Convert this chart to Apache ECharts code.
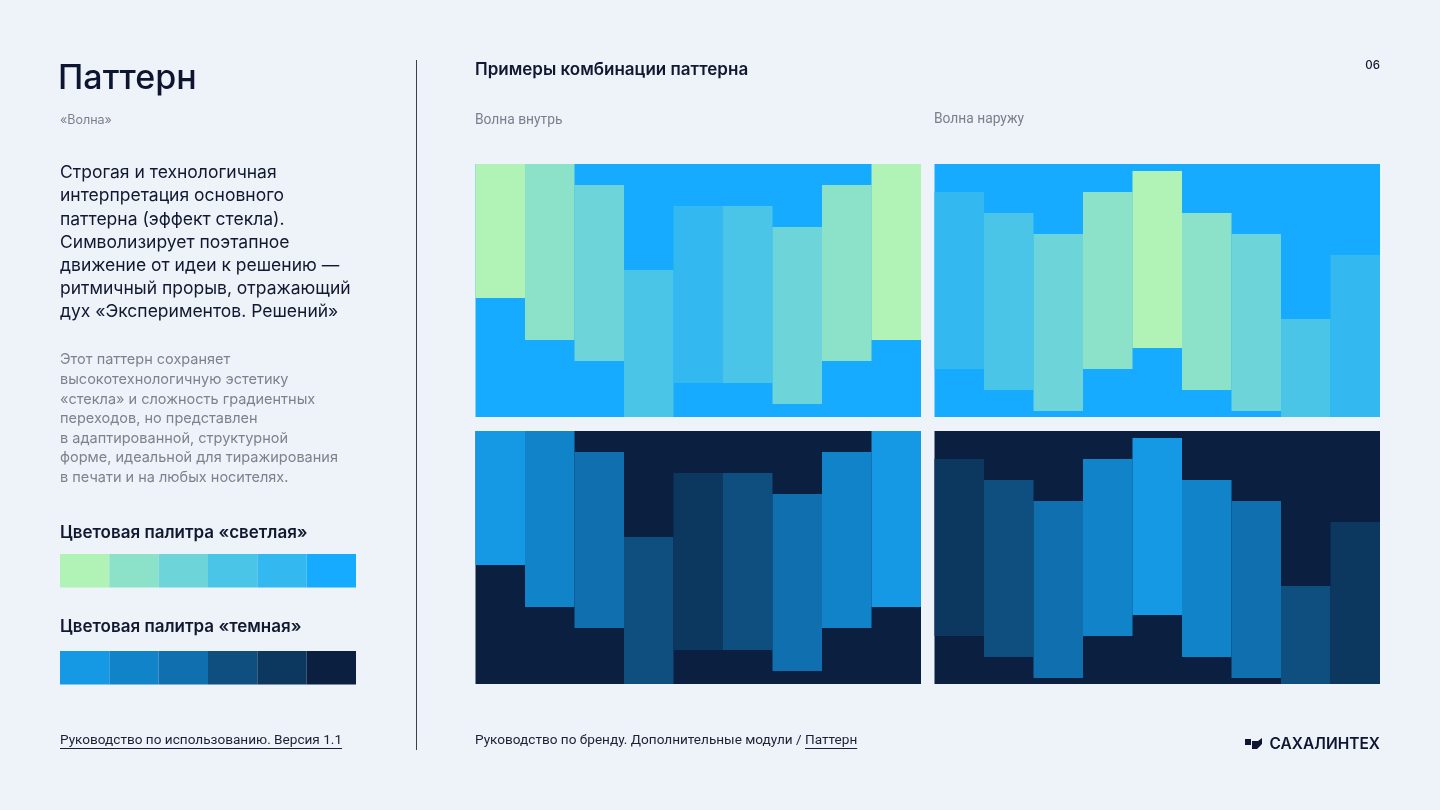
<!DOCTYPE html>
<html>
<head>
<meta charset="utf-8">
<script src="https://cdn.jsdelivr.net/npm/echarts@6/dist/echarts.min.js"></script>
<style>
  html, body { margin: 0; padding: 0; background: #EEF2F9; }
  #chart { width: 1440px; height: 810px; }
</style>
</head>
<body>
<div id="chart"></div>
<script>
// columns of the pattern
var columns = ['1', '2', '3', '4', '5', '6', '7', '8', '9'];

// "Волна внутрь": top and bottom edge of each glass strip (panel height = 253)
var waveInTop = [0, 0, 21, 106, 42, 42, 63, 21, 0];
var waveInBottom = [134, 176, 197, 253, 219, 219, 240, 197, 176];
var waveInShade = [0, 1, 2, 3, 4, 3, 2, 1, 0];

// "Волна наружу"
var waveOutTop = [28, 49, 70, 28, 7, 49, 70, 155, 91];
var waveOutBottom = [205, 226, 247, 205, 184, 226, 247, 253, 253];
var waveOutShade = [4, 3, 2, 1, 0, 1, 2, 3, 4];

// palettes
var lightPalette = ['#B1F2B6', '#8CE1C9', '#6DD5D9', '#4AC5E7', '#33B9EF', '#16ABFF'];
var darkPalette = ['#1599E4', '#1183C9', '#106FAE', '#0E4F80', '#0C375F', '#0B1F40'];
var swatchSlots = ['1', '2', '3', '4', '5', '6'];
var swatchValues = [1, 1, 1, 1, 1, 1];

var FONT = 'Inter, "Noto Sans", sans-serif';
var COND = 'Roboto, "Noto Sans", sans-serif';

var dom = document.getElementById('chart');
var myChart = echarts.init(dom, null, { renderer: 'canvas' });

// panels: grid position + which wave + which palette
var panels = [
  { left: 475.5, top: 164, top2: waveInTop, bottom2: waveInBottom, shade: waveInShade, pal: lightPalette },
  { left: 934.5, top: 164, top2: waveOutTop, bottom2: waveOutBottom, shade: waveOutShade, pal: lightPalette },
  { left: 475.5, top: 431, top2: waveInTop, bottom2: waveInBottom, shade: waveInShade, pal: darkPalette },
  { left: 934.5, top: 431, top2: waveOutTop, bottom2: waveOutBottom, shade: waveOutShade, pal: darkPalette }
];

var grid = [], xAxis = [], yAxis = [], series = [];

panels.forEach(function (p, i) {
  grid.push({
    left: p.left, top: p.top, width: 445.5, height: 253,
    show: true, backgroundColor: p.pal[5], borderWidth: 0
  });
  xAxis.push({ type: 'category', data: columns, gridIndex: i, show: false, boundaryGap: true });
  yAxis.push({ type: 'value', gridIndex: i, min: 0, max: 253, inverse: true, show: false });
  series.push({
    type: 'bar', xAxisIndex: i, yAxisIndex: i, stack: 'p' + i,
    barWidth: '100%', barCategoryGap: 0, silent: true,
    itemStyle: { color: 'transparent' },
    data: p.top2
  });
  series.push({
    type: 'bar', xAxisIndex: i, yAxisIndex: i, stack: 'p' + i,
    barWidth: '100%', barCategoryGap: 0, silent: true,
    data: p.bottom2.map(function (b, k) {
      return { value: b - p.top2[k], itemStyle: { color: p.pal[p.shade[k]] } };
    })
  });
});

// palette swatches
[{ top: 554, pal: lightPalette }, { top: 651, pal: darkPalette }].forEach(function (s) {
  var gi = grid.length;
  grid.push({ left: 60, top: s.top, width: 296, height: 33.5 });
  xAxis.push({ type: 'category', data: swatchSlots, gridIndex: gi, show: false });
  yAxis.push({ type: 'value', gridIndex: gi, min: 0, max: 1, show: false });
  series.push({
    type: 'bar', xAxisIndex: gi, yAxisIndex: gi, barWidth: '100%', silent: true,
    data: swatchValues.map(function (v, k) {
      return { value: v, itemStyle: { color: s.pal[k] } };
    })
  });
});

// text measuring for underlines
var ctx = document.createElement('canvas').getContext('2d');
function textWidth(str, font) { ctx.font = font; return ctx.measureText(str).width; }

function txt(str, x, y, size, color, weight, family, align) {
  return {
    type: 'text', silent: true,
    style: {
      text: str, x: x, y: y, fill: color,
      font: (weight || 'normal') + ' ' + size + 'px ' + (family || FONT),
      textAlign: align || 'left', textVerticalAlign: 'middle'
    }
  };
}
function rule(x1, y1, x2, y2, color) {
  return { type: 'line', silent: true, shape: { x1: x1, y1: y1, x2: x2, y2: y2 }, style: { stroke: color, lineWidth: 1 } };
}

var para1 = [
  'Строгая и технологичная',
  'интерпретация основного',
  'паттерна (эффект стекла).',
  'Символизирует поэтапное',
  'движение от идеи к решению —',
  'ритмичный прорыв, отражающий',
  'дух «Экспериментов. Решений»'
];
var para2 = [
  'Этот паттерн сохраняет',
  'высокотехнологичную эстетику',
  '«стекла» и сложность градиентных',
  'переходов, но представлен',
  'в адаптированной, структурной',
  'форме, идеальной для тиражирования',
  'в печати и на любых носителях.'
];

var g = [];
g.push(txt('Паттерн', 58, 79, 34, '#0E1530', '500'));
g.push(txt('«Волна»', 60, 120, 12.5, '#7A7F8C'));
para1.forEach(function (l, k) { g.push(txt(l, 60, 173 + k * 23.2, 17.5, '#11182F')); });
para2.forEach(function (l, k) { g.push(txt(l, 60, 360 + k * 19.6, 14.5, '#7E828D')); });
g.push(txt('Цветовая палитра «светлая»', 60, 533, 17, '#11182F', '600'));
g.push(txt('Цветовая палитра «темная»', 60, 627, 17, '#11182F', '600'));

// divider
g.push(rule(416.5, 60, 416.5, 750, '#3A3F4C'));

// footer left
var FS = 13.6;
var fl = 'Руководство по использованию. Версия 1.1';
var flFont = 'normal ' + FS + 'px ' + COND;
g.push(txt(fl, 60, 741, FS, '#1B2036', 'normal', COND));
g.push(rule(60, 748.5, 60 + textWidth(fl, flFont), 748.5, '#1B2036'));

// footer middle
var fm = 'Руководство по бренду. Дополнительные модули / ';
var fmW = textWidth(fm, flFont);
g.push(txt(fm, 475, 741, FS, '#1B2036', 'normal', COND));
g.push(txt('Паттерн', 475 + fmW, 741, FS, '#1B2036', 'normal', COND));
g.push(rule(475 + fmW, 748.5, 475 + fmW + textWidth('Паттерн', flFont), 748.5, '#1B2036'));

// header right
g.push(txt('Примеры комбинации паттерна', 475, 70, 17, '#11182F', '600'));
g.push(txt('Волна внутрь', 475, 121, 13.8, '#7A7F8C', 'normal', COND));
g.push(txt('Волна наружу', 934, 120, 13.8, '#7A7F8C', 'normal', COND));
g.push(txt('06', 1380, 66, 11.5, '#11182F', '500', FONT, 'right'));

// logo
g.push({ type: 'rect', silent: true, shape: { x: 1245, y: 739, width: 6, height: 6 }, style: { fill: '#0E1530' } });
g.push({
  type: 'polygon', silent: true,
  shape: { points: [[1252, 741], [1258, 741], [1262, 738], [1262, 744], [1257, 749], [1252, 749]] },
  style: { fill: '#0E1530' }
});
g.push(txt('САХАЛИНТЕХ', 1380, 744.5, 15.5, '#0E1530', '600', FONT, 'right'));

var option = {
  backgroundColor: '#EEF2F9',
  animation: false,
  grid: grid,
  xAxis: xAxis,
  yAxis: yAxis,
  series: series,
  graphic: g
};

myChart.setOption(option);
window.addEventListener('resize', myChart.resize);
</script>
</body>
</html>
